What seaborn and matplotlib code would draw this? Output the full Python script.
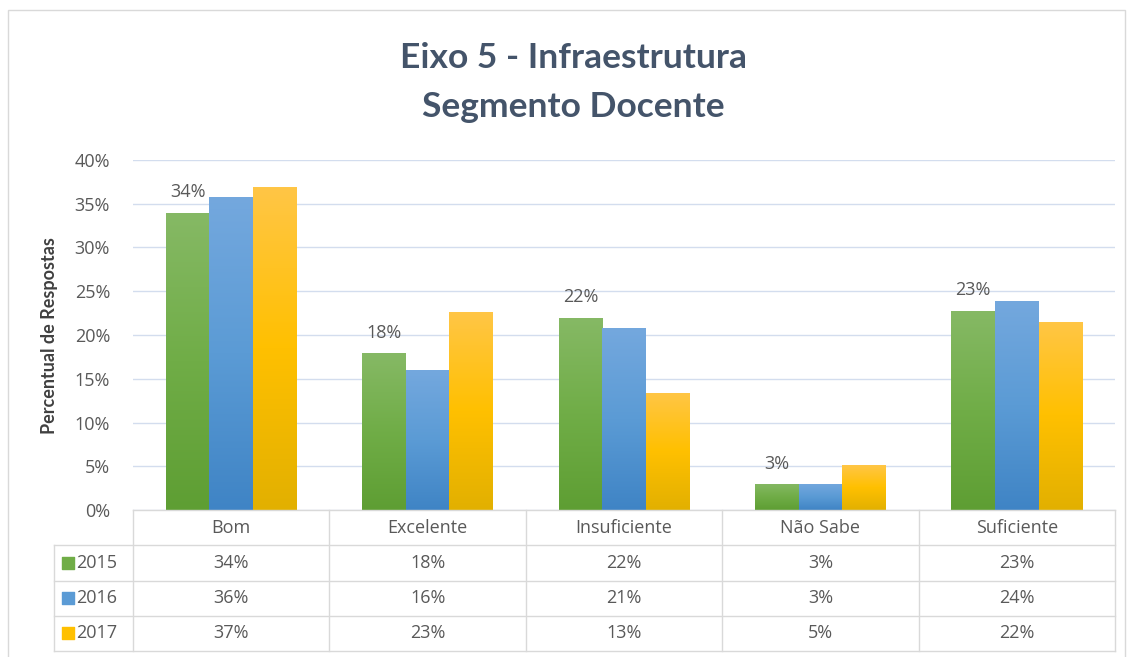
import numpy as np
import pandas as pd
import seaborn as sns
import matplotlib.pyplot as plt
from matplotlib.colors import LinearSegmentedColormap
from matplotlib.patches import Rectangle
from matplotlib.ticker import PercentFormatter

# Data (bar heights, in %)
categories = ['Bom', 'Excelente', 'Insuficiente', 'Não Sabe', 'Suficiente']
years = ['2015', '2016', '2017']
v2015 = [34.0, 17.9, 22.0, 3.0, 22.8]
v2016 = [35.8, 16.0, 20.8, 3.0, 23.9]
v2017 = [36.9, 22.6, 13.4, 5.1, 21.5]
# rounded values shown in the data table
t2015 = ['34%', '18%', '22%', '3%', '23%']
t2016 = ['36%', '16%', '21%', '3%', '24%']
t2017 = ['37%', '23%', '13%', '5%', '22%']
table_rows = [t2015, t2016, t2017]

colors = ['#70ad47', '#5b9bd5', '#ffc000']
# (top, middle, bottom) of the excel style gradient
grads = [('#86b965', '#70ad47', '#5e9e33'),
         ('#74a8de', '#5b9bd5', '#3f84c5'),
         ('#ffc646', '#ffc000', '#e2b000')]

df = pd.DataFrame({
    'categoria': categories * 3,
    'ano': np.repeat(years, len(categories)),
    'valor': np.array(v2015 + v2016 + v2017) / 100,
})

txt = '#595959'
grid_c = '#d3ddee'
line_c = '#d9d9d9'
font = 'Open Sans'
title_font = 'Lato'
fs = 13

W, H = 1131, 657
fig = plt.figure(figsize=(W / 100, H / 100), dpi=100)

# outer chart frame
fig.patches.append(Rectangle((8 / W, -0.01), 1117 / W, (H - 10) / H + 0.01,
                             transform=fig.transFigure, fill=False,
                             edgecolor=line_c, lw=1))

ax = fig.add_axes([133 / W, 147 / H, 982 / W, 350 / H])
sns.barplot(data=df, x='categoria', y='valor', hue='ano', palette=colors,
            width=0.667, gap=0, saturation=1, legend=False, ax=ax, zorder=2)

# vertical gradient on each bar
for cont, g in zip(ax.containers, grads):
    cmap = LinearSegmentedColormap.from_list('g', [g[2], g[1], g[0]])
    for bar in cont:
        x0, y0 = bar.get_x(), bar.get_y()
        w, h = bar.get_width(), bar.get_height()
        im = ax.imshow(np.linspace(0, 1, 256).reshape(-1, 1),
                       extent=[x0, x0 + w, y0, y0 + h], origin='lower',
                       cmap=cmap, aspect='auto', zorder=3)
        im.set_clip_path(bar)

ax.set_xlim(-0.5, len(categories) - 0.5)
ax.set_ylim(0, 0.40)
ax.set_yticks(np.arange(0, 0.401, 0.05))
ax.yaxis.set_major_formatter(PercentFormatter(1.0, decimals=0))
ax.set_xticks([])
ax.set_xlabel('')
ax.set_ylabel('')
ax.grid(axis='y', color=grid_c, lw=1)
ax.set_axisbelow(True)
for s in ax.spines.values():
    s.set_visible(False)
ax.tick_params(axis='y', length=0, pad=16.5, labelsize=fs, labelcolor=txt)
for lab in ax.get_yticklabels():
    lab.set_family(font)

# labels only on the 2015 series
ax.bar_label(ax.containers[0], labels=t2015, padding=8, color=txt,
             fontsize=fs, family=font, zorder=4)

fig.text(50 / W, (H - 336) / H, 'Percentual de Respostas', rotation=90,
         ha='center', va='center', fontsize=13, fontweight='bold',
         color='#404040', family=title_font)

fig.text(0.507, (H - 58) / H, 'Eixo 5 - Infraestrutura', ha='center',
         va='center', fontsize=25.5, fontweight='bold', color='#44546a',
         family=title_font)
fig.text(0.507, (H - 107) / H, 'Segmento Docente', ha='center',
         va='center', fontsize=25.5, fontweight='bold', color='#44546a',
         family=title_font)

# data table under the plot
tax = fig.add_axes([133 / W, 6 / H, 982 / W, 141 / H])
tax.set_xlim(-0.5, len(categories) - 0.5)
tax.set_ylim(0, 4)
tax.axis('off')
left = -(133 - 54) / 982

tax.plot([-0.5, len(categories) - 0.5], [4, 4], color=line_c, lw=1, clip_on=False)
for r in range(4):
    tax.plot([left, 1], [r / 4, r / 4], color=line_c, lw=1,
             transform=tax.transAxes, clip_on=False)
for i in range(len(categories) + 1):
    tax.plot([i - 0.5, i - 0.5], [0, 4], color=line_c, lw=1, clip_on=False)
tax.plot([left, left], [0, 0.75], color=line_c, lw=1,
         transform=tax.transAxes, clip_on=False)

for i, c in enumerate(categories):
    tax.text(i, 3.5, c, ha='center', va='center', fontsize=fs, color=txt,
             family=font)
for r, (yr, vals, col) in enumerate(zip(years, table_rows, colors)):
    y = 2.5 - r
    for i, v in enumerate(vals):
        tax.text(i, y, v, ha='center', va='center', fontsize=fs, color=txt,
                 family=font)
    tax.scatter([-(133 - 68) / 982], [y / 4], marker='s', s=80, color=col,
                transform=tax.transAxes, clip_on=False)
    tax.text(-(133 - 76) / 982, y / 4, yr, ha='left', va='center',
             fontsize=fs, color=txt, family=font, transform=tax.transAxes)

fig.savefig('out.png', dpi=100)
